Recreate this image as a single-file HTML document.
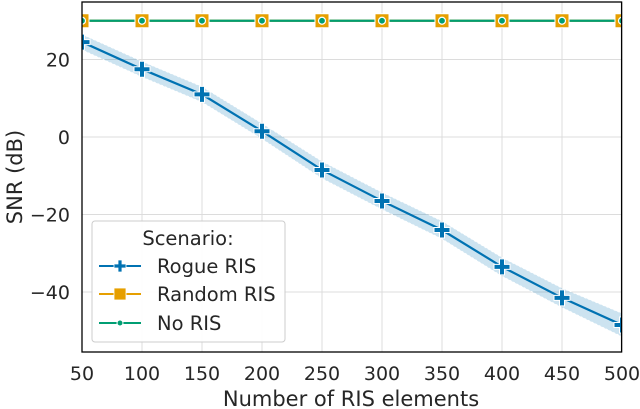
<!DOCTYPE html>
<html><head><meta charset="utf-8"><style>
html,body{margin:0;padding:0;background:#fff;}
svg{display:block;font-family:"DejaVu Sans","Liberation Sans",sans-serif;}
</style></head><body>
<svg id="chart" width="640" height="409" viewBox="0 0 640 409"></svg>
<script>
const categories=[50,100,150,200,250,300,350,400,450,500];
const rogueRIS=[24.5,17.5,11,1.5,-8.5,-16.5,-24,-33.5,-41.5,-48.5];
const rogueSpread=[2,2,2,2,2.2,2.2,2.3,2.4,2.5,3];
const randomRIS=[30,30,30,30,30,30,30,30,30,30];
const noRIS=[30,30,30,30,30,30,30,30,30,30];
const xTicks=[50,100,150,200,250,300,350,400,450,500];
const yTicks=[20,0,-20,-40];
const yTickLabels=["20","0","\u221220","\u221240"];
const L=82,R=621.6,T=2,B=352;
const xs=v=>L+(v-50)*1.2;
const ys=v=>137-3.875*v;
const NS='http://www.w3.org/2000/svg';
const svg=document.getElementById('chart');
function mk(t,a,p){const e=document.createElementNS(NS,t);for(const k in a)e.setAttribute(k,a[k]);(p||svg).appendChild(e);return e;}
const clip=mk('clipPath',{id:'pc'});mk('rect',{x:L,y:T,width:R-L,height:B-T},clip);
xTicks.forEach(v=>{const g=mk('line',{x1:xs(v),x2:xs(v),y1:T,y2:B,stroke:'#dcdcdc','stroke-width':1});


const t=mk('text',{x:xs(v),y:380,'text-anchor':'middle','font-size':19,fill:'#262626'});t.textContent=v;

});
yTicks.forEach((v,i)=>{const g=mk('line',{x1:L,x2:R,y1:ys(v),y2:ys(v),stroke:'#dcdcdc','stroke-width':1});


const t=mk('text',{x:70,y:ys(v)+7,'text-anchor':'end','font-size':19,fill:'#262626'});t.textContent=yTickLabels[i];

});
const pg=mk('g',{'clip-path':'url(#pc)'});
let up=categories.map((c,i)=>xs(c)+','+ys(rogueRIS[i]+rogueSpread[i]));
let dn=categories.map((c,i)=>xs(c)+','+ys(rogueRIS[i]-rogueSpread[i])).reverse();
const band=mk('polygon',{points:up.concat(dn).join(' '),fill:'#0072b2','fill-opacity':0.2,stroke:'#fff','stroke-dasharray':'2,2','stroke-width':0.8},pg);


function series(vals,color,name){const l=mk('polyline',{points:categories.map((c,i)=>xs(c)+','+ys(vals[i])).join(' '),fill:'none',stroke:color,'stroke-width':2.2},pg);

}
series(randomRIS,'#e69f00','random-ris');
series(noRIS,'#009e73','no-ris');
series(rogueRIS,'#0072b2','rogue-ris');
function sq(x,y,g){mk('rect',{x:x-7,y:y-7,width:14,height:14,fill:'#e69f00',stroke:'#fff','stroke-width':1},g);}
function dot(x,y,g){mk('circle',{cx:x,cy:y,r:3.5,fill:'#009e73',stroke:'#fff','stroke-width':1.2},g);}
function plus(x,y,g){mk('path',{d:`M${x-8},${y-2.5}h5.5v-5.5h5v5.5h5.5v5h-5.5v5.5h-5v-5.5h-5.5z`,fill:'#0072b2',stroke:'#fff','stroke-width':1},g);}
categories.forEach((c,i)=>{sq(xs(c),ys(randomRIS[i]),pg);dot(xs(c),ys(noRIS[i]),pg);plus(xs(c),ys(rogueRIS[i]),pg);});
const fr=mk('rect',{x:L,y:T,width:R-L,height:B-T,fill:'none',stroke:'#000','stroke-width':1.3});


</script>
<svg style="position:absolute;left:0;top:0" width="640" height="409">
<text x="351" y="406" text-anchor="middle" font-size="21" fill="#262626">Number of RIS elements</text>
<text transform="translate(22,177) rotate(-90)" text-anchor="middle" font-size="21" fill="#262626">SNR (dB)</text>
<g>
<rect x="92" y="221" width="193" height="121" rx="3" fill="#fff" fill-opacity="0.9" stroke="#ccc"/>
<text x="188" y="245" text-anchor="middle" font-size="19.5" fill="#262626">Scenario:</text>
<g>
<line x1="99" x2="141" y1="266" y2="266" stroke="#0072b2" stroke-width="2"/>
<path d="M114,264h4v-4h4v4h4v4h-4v4h-4v-4h-4z" fill="#0072b2" stroke="#fff" stroke-width="0.8"/>
<text x="157" y="273" font-size="19.5" fill="#262626">Rogue RIS</text></g>
<g>
<line x1="99" x2="141" y1="294" y2="294" stroke="#e69f00" stroke-width="2"/>
<rect x="114" y="288" width="12" height="12" fill="#e69f00" stroke="#fff" stroke-width="0.8"/>
<text x="157" y="301" font-size="19.5" fill="#262626">Random RIS</text></g>
<g>
<line x1="99" x2="141" y1="323" y2="323" stroke="#009e73" stroke-width="2"/>
<circle cx="120" cy="323" r="3" fill="#009e73" stroke="#fff"/>
<text x="157" y="330" font-size="19.5" fill="#262626">No RIS</text></g>
</g>
</svg>
</body></html>
